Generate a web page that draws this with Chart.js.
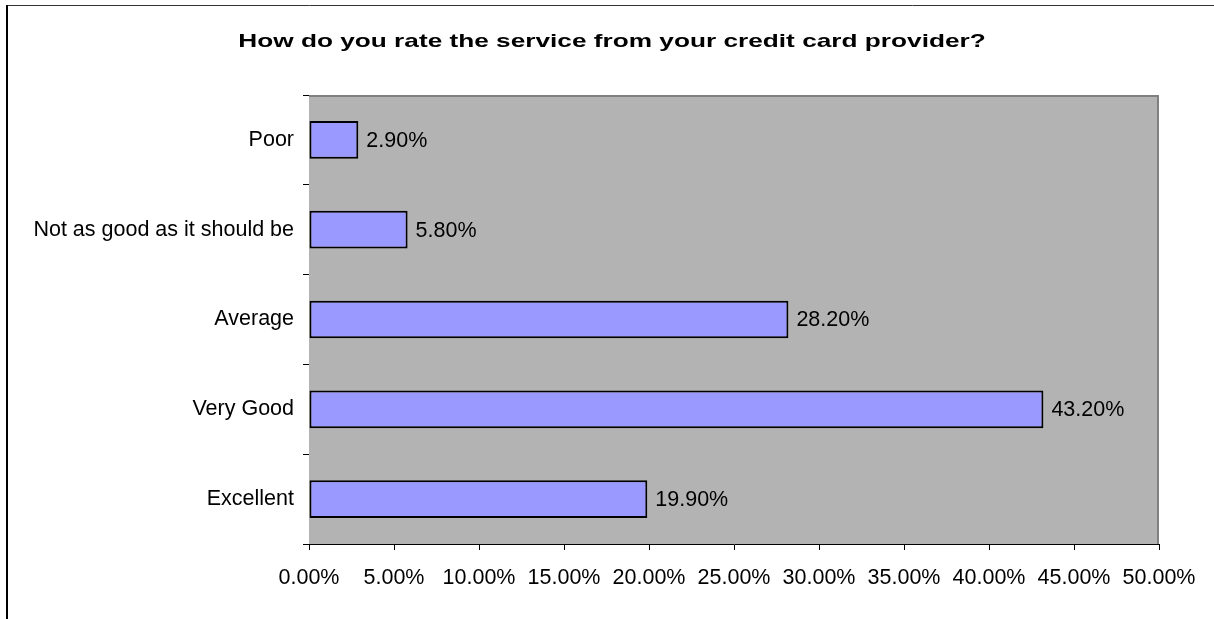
<!DOCTYPE html>
<html>
<head>
<meta charset="utf-8">
<script src="https://cdn.jsdelivr.net/npm/chart.js@4/dist/chart.umd.min.js"></script>
<style>
  html, body { margin: 0; padding: 0; background: #fff; }
  canvas { display: block; }
</style>
</head>
<body>
<canvas id="chartRating" width="1214" height="619"></canvas>
<script>
// ── survey: credit card service rating ─────────
const titleText = 'How do you rate the service from your credit card provider?';
const ratings = ['Poor', 'Not as good as it should be', 'Average', 'Very Good', 'Excellent'];
const shares  = [2.9, 5.8, 28.2, 43.2, 19.9];
const xTicks  = [0, 5, 10, 15, 20, 25, 30, 35, 40, 45, 50];

const FONT = '"Liberation Sans", Arial, sans-serif';
const pct = v => Number(v).toFixed(2) + '%';

// outer frame + title
const frame = {
  id: 'frame',
  beforeDraw(chart) {
    const c = chart.ctx;
    c.save();
    c.strokeStyle = '#333'; c.lineWidth = 1;
    c.beginPath(); c.moveTo(8, 5.5); c.lineTo(1214, 5.5); c.stroke();
    c.strokeStyle = '#000'; c.lineWidth = 2;
    c.beginPath(); c.moveTo(7, 619); c.lineTo(7, 5); c.stroke();
    c.fillStyle = '#000';
    c.font = 'bold 19px ' + FONT;
    c.textAlign = 'center'; c.textBaseline = 'middle';
    c.translate(612, 42); c.scale(1.38, 1);
    c.fillText(titleText, 0, 0);
    c.restore();
  }
};

// gray plot area with its thin gray frame on top/right
const plotBg = {
  id: 'plotBg',
  beforeDatasetsDraw(chart) {
    const { ctx: c, chartArea: a } = chart;
    c.save();
    c.fillStyle = '#b3b3b3';
    c.fillRect(a.left, a.top, a.right - a.left, a.bottom - a.top);
    c.strokeStyle = '#808080'; c.lineWidth = 2;
    c.beginPath(); c.moveTo(a.left, a.top + 1); c.lineTo(a.right - 1, a.top + 1); c.lineTo(a.right - 1, a.bottom); c.stroke();
    c.restore();
  }
};

// value labels right of each bar
const valueLabels = {
  id: 'valueLabels',
  afterDatasetsDraw(chart) {
    const c = chart.ctx;
    const meta = chart.getDatasetMeta(0);
    c.save();
    c.fillStyle = '#000';
    c.font = '21.5px ' + FONT;
    c.textAlign = 'left'; c.textBaseline = 'middle';
    meta.data.forEach((bar, i) => {
      c.fillText(pct(shares[i]), bar.x + 8, bar.y + 1);
    });
    c.restore();
  }
};

new Chart(document.getElementById('chartRating'), {
  type: 'bar',
  data: {
    labels: ratings,
    datasets: [{
      data: shares,
      backgroundColor: '#9999ff',
      borderColor: '#000',
      borderWidth: 2,
      borderSkipped: false,
      barPercentage: 1,
      categoryPercentage: 0.42
    }]
  },
  options: {
    indexAxis: 'y',
    responsive: false,
    devicePixelRatio: 1,
    animation: false,
    layout: { padding: { top: 95, right: 55, left: 0, bottom: 0 } },
    plugins: {
      legend: { display: false },
      title: { display: false },
      tooltip: { enabled: false }
    },
    scales: {
      x: {
        type: 'linear', min: 0, max: 50,
        afterBuildTicks: s => { s.ticks = xTicks.map(v => ({ value: v })); },
        afterFit: s => { s.height = 75; },
        grid: { drawOnChartArea: false, tickLength: 6, color: '#000' },
        border: { color: '#000', width: 1 },
        ticks: { color: '#000', padding: 15, font: { size: 21.5, family: FONT }, callback: v => pct(v), maxRotation: 0, autoSkip: false }
      },
      y: {
        afterFit: s => { s.width = 309; },
        grid: { offset: true, drawOnChartArea: false, tickLength: 6, color: '#000' },
        border: { color: '#000', width: 1 },
        ticks: { color: '#000', padding: 9, font: { size: 21.5, family: FONT } }
      }
    }
  },
  plugins: [frame, plotBg, valueLabels]
});
</script>
</body>
</html>
